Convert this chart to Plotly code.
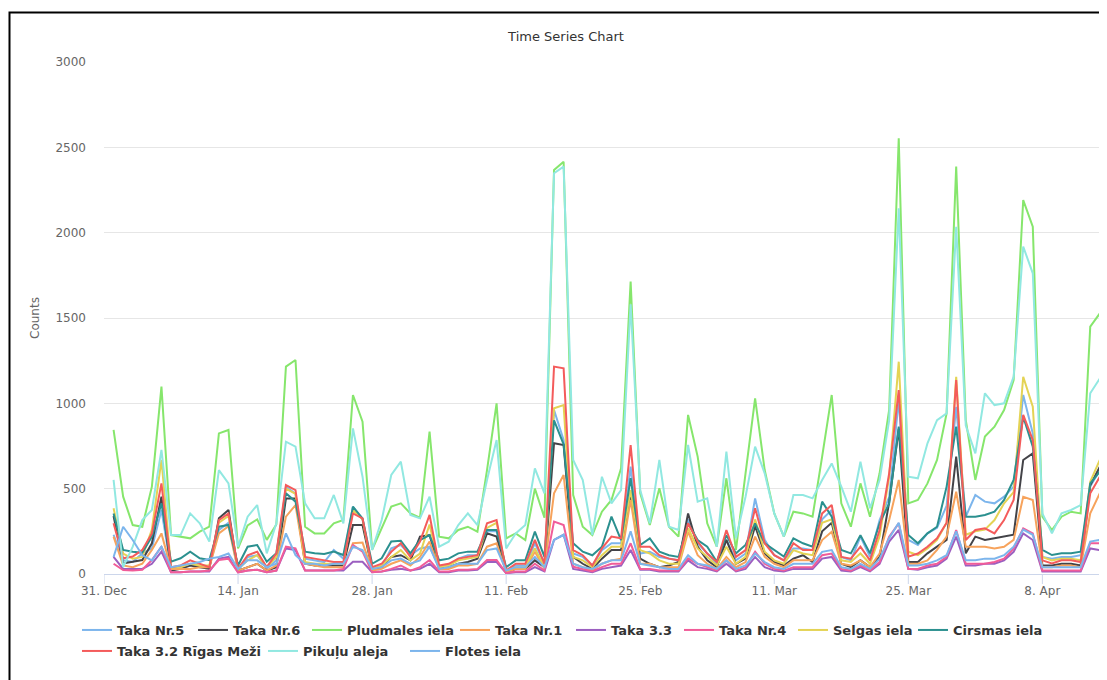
import pandas as pd
import plotly.graph_objects as go

dates = pd.date_range("2018-01-01", periods=105, freq="D")

taka_nr5 = [230, 80, 70, 121, 150, 375, 30, 40, 60, 40, 40, 258, 300, 20, 100, 110, 30, 80, 512, 470,
            90, 80, 70, 141, 90, 394, 320, 30, 40, 150, 170, 110, 150, 160, 40, 50, 90, 110, 110, 250,
            250, 20, 50, 50, 180, 60, 961, 785, 120, 100, 50, 140, 180, 180, 629, 120, 130, 100, 90, 80,
            320, 180, 120, 60, 200, 80, 120, 443, 200, 110, 80, 150, 150, 140, 320, 375, 100, 80, 219, 100,
            316, 450, 1020, 200, 170, 238, 270, 400, 980, 336, 463, 424, 414, 453, 512, 1049, 824, 100, 90, 100,
            100, 110, 512, 609, 90]
taka_nr6 = [340, 62, 72, 82, 180, 453, 20, 30, 50, 40, 30, 326, 375, 20, 40, 60, 20, 40, 443, 443,
            60, 50, 50, 50, 50, 287, 287, 30, 40, 100, 110, 80, 219, 228, 30, 40, 60, 70, 90, 238,
            219, 10, 30, 30, 80, 40, 766, 756, 100, 60, 30, 90, 141, 141, 470, 90, 60, 40, 50, 70,
            355, 160, 80, 40, 200, 60, 90, 280, 120, 70, 50, 90, 110, 70, 250, 300, 60, 40, 80, 40,
            100, 420, 850, 70, 70, 121, 160, 200, 688, 121, 219, 199, 209, 219, 230, 668, 707, 50, 50, 60,
            60, 50, 520, 629, 60]
pludmales = [844, 453, 287, 277, 512, 1098, 228, 219, 209, 248, 277, 824, 844, 150, 285, 320, 200, 290, 1215, 1254,
             277, 238, 238, 297, 316, 1049, 893, 141, 268, 395, 414, 355, 330, 834, 219, 209, 258, 277, 248, 609,
             1000, 209, 238, 199, 500, 330, 2367, 2416, 463, 277, 228, 365, 434, 619, 1713, 473, 287, 502, 277, 219,
             932, 688, 297, 160, 561, 141, 590, 1029, 609, 355, 219, 365, 355, 336, 688, 1049, 414, 277, 531, 336,
             590, 961, 2553, 414, 434, 531, 668, 941, 2387, 902, 551, 805, 863, 961, 1137, 2191, 2035, 336, 258, 336,
             365, 355, 1449, 1527, 300]
taka_nr1 = [219, 50, 40, 60, 141, 238, 30, 30, 30, 40, 40, 238, 280, 20, 40, 60, 20, 50, 336, 404,
            60, 50, 40, 40, 40, 180, 184, 20, 30, 60, 80, 50, 100, 190, 30, 30, 50, 50, 60, 160,
            180, 10, 30, 30, 130, 30, 473, 580, 60, 40, 20, 60, 80, 90, 434, 60, 60, 40, 40, 40,
            248, 110, 60, 30, 100, 40, 70, 219, 100, 60, 40, 80, 80, 80, 199, 248, 60, 50, 80, 40,
            120, 316, 551, 60, 60, 80, 141, 219, 482, 160, 160, 160, 150, 160, 200, 453, 434, 40, 40, 50,
            50, 40, 355, 473, 40]
taka_33 = [100, 30, 30, 30, 60, 131, 10, 10, 15, 15, 15, 90, 100, 10, 20, 25, 10, 20, 150, 140,
           20, 20, 20, 20, 20, 72, 72, 10, 15, 25, 30, 20, 30, 60, 10, 10, 20, 20, 25, 70,
           70, 5, 10, 10, 40, 15, 200, 230, 30, 20, 10, 30, 40, 50, 141, 25, 25, 15, 15, 15,
           80, 40, 30, 15, 60, 15, 30, 100, 40, 20, 15, 30, 30, 30, 90, 100, 20, 15, 40, 15,
           60, 190, 258, 30, 25, 40, 50, 90, 219, 50, 50, 60, 60, 80, 130, 238, 199, 15, 15, 15,
           15, 15, 150, 140, 15]
taka_nr4 = [60, 23, 20, 25, 82, 160, 10, 10, 15, 15, 20, 82, 90, 10, 20, 25, 10, 20, 160, 150,
            20, 20, 20, 20, 30, 170, 131, 10, 15, 30, 50, 20, 40, 82, 15, 15, 25, 25, 30, 82,
            82, 5, 15, 15, 60, 20, 307, 287, 43, 30, 15, 40, 60, 60, 180, 30, 30, 20, 20, 20,
            92, 60, 40, 20, 80, 20, 40, 131, 60, 30, 20, 40, 40, 40, 110, 120, 30, 20, 50, 20,
            70, 219, 297, 30, 30, 50, 60, 100, 258, 60, 60, 60, 70, 90, 150, 268, 238, 20, 20, 20,
            20, 20, 180, 180, 20]
selgas = [385, 120, 90, 100, 260, 668, 40, 40, 60, 50, 50, 300, 340, 30, 80, 110, 40, 100, 500, 470,
          70, 60, 60, 60, 60, 375, 320, 30, 50, 100, 140, 80, 120, 290, 40, 50, 80, 90, 100, 270,
          300, 20, 40, 40, 150, 40, 971, 990, 100, 80, 40, 110, 160, 160, 492, 140, 120, 80, 60, 60,
          270, 150, 100, 50, 160, 60, 100, 320, 130, 80, 60, 140, 120, 110, 300, 320, 80, 70, 120, 60,
          220, 570, 1244, 130, 110, 150, 200, 300, 1156, 230, 250, 260, 316, 414, 480, 1156, 980, 100, 80, 90,
          90, 80, 541, 668, 80]
cirsmas = [355, 141, 131, 125, 219, 414, 72, 92, 131, 92, 82, 277, 287, 50, 160, 170, 72, 121, 473, 424,
           131, 121, 117, 131, 111, 394, 326, 60, 92, 190, 195, 121, 199, 228, 80, 90, 121, 131, 131, 258,
           258, 40, 80, 80, 248, 100, 900, 760, 180, 131, 110, 160, 336, 199, 561, 170, 209, 131, 110, 100,
           297, 199, 160, 72, 228, 121, 170, 297, 180, 141, 102, 209, 180, 160, 424, 336, 141, 121, 228, 121,
           297, 414, 863, 228, 180, 238, 277, 512, 863, 336, 336, 346, 365, 434, 551, 922, 746, 141, 111, 121,
           121, 131, 531, 600, 100]
taka_32 = [297, 92, 102, 141, 238, 531, 40, 50, 80, 60, 40, 316, 355, 30, 110, 131, 40, 121, 521, 492,
           100, 90, 80, 70, 70, 355, 326, 40, 60, 130, 180, 100, 190, 346, 50, 60, 90, 100, 110, 297,
           316, 20, 60, 60, 200, 60, 1215, 1205, 140, 110, 50, 150, 219, 209, 756, 160, 160, 110, 90, 80,
           297, 190, 120, 70, 258, 100, 140, 385, 180, 110, 80, 180, 140, 140, 355, 404, 100, 90, 160, 80,
           258, 590, 1078, 102, 120, 160, 209, 300, 1137, 199, 258, 268, 238, 316, 434, 932, 785, 80, 62, 80,
           80, 70, 473, 570, 80]
pikulu = [551, 40, 160, 316, 375, 727, 228, 228, 355, 297, 190, 609, 531, 160, 336, 404, 121, 297, 775, 746,
          414, 326, 326, 463, 297, 853, 570, 141, 316, 580, 658, 346, 326, 453, 160, 189, 287, 355, 287, 551,
          785, 150, 238, 287, 619, 473, 2348, 2387, 668, 551, 228, 570, 414, 492, 1580, 492, 297, 668, 277, 258,
          756, 424, 443, 160, 717, 209, 453, 746, 590, 355, 219, 463, 463, 443, 551, 648, 512, 365, 658, 385,
          551, 900, 2143, 570, 561, 766, 902, 941, 2035, 870, 707, 1059, 990, 1000, 1156, 1918, 1762, 355, 238, 355,
          375, 404, 1059, 1146, 300]
flotes = [100, 277, 199, 110, 80, 160, 40, 50, 60, 70, 90, 100, 120, 30, 80, 80, 40, 60, 238, 110,
          60, 60, 50, 60, 60, 160, 140, 30, 40, 80, 90, 60, 80, 160, 30, 40, 60, 60, 60, 140,
          150, 20, 40, 40, 100, 40, 200, 230, 60, 40, 30, 60, 80, 80, 250, 60, 50, 40, 30, 30,
          110, 60, 50, 30, 80, 30, 50, 120, 70, 40, 30, 60, 60, 60, 130, 140, 40, 30, 60, 30,
          90, 210, 300, 50, 50, 60, 80, 110, 250, 80, 80, 90, 90, 110, 160, 260, 230, 40, 40, 40,
          40, 40, 190, 200, 40]

series_names = ["Taka Nr.5", "Taka Nr.6", "Pludmales iela", "Taka Nr.1", "Taka 3.3", "Taka Nr.4",
                "Selgas iela", "Cirsmas iela", "Taka 3.2 Rīgas Meži", "Pikuļu aleja", "Flotes iela"]
series_values = [taka_nr5, taka_nr6, pludmales, taka_nr1, taka_33, taka_nr4,
                 selgas, cirsmas, taka_32, pikulu, flotes]
colors = ["#7cb5ec", "#434348", "#86e66c", "#f7a35c", "#9b5fc0", "#f15c99",
          "#e4d354", "#2b908f", "#f45b5b", "#91e8e1", "#7cb5ec"]

tick_vals = ["2017-12-31", "2018-01-14", "2018-01-28", "2018-02-11", "2018-02-25",
             "2018-03-11", "2018-03-25", "2018-04-08"]
tick_text = ["31. Dec", "14. Jan", "28. Jan", "11. Feb", "25. Feb", "11. Mar", "25. Mar", "8. Apr"]

FONT = "DejaVu Sans, Verdana, sans-serif"

# page body has an 8px margin: figure pixel = screen pixel - 8
OFF = 8
W, H = 1107, 680
L, T = 104 - OFF, 62 - OFF
plot_bottom = 574 - OFF
plot_right = 1107 - OFF
R, B = W - plot_right, H - plot_bottom
pw, ph = W - L - R, H - T - B


def px(x):
    return (x - OFF - L) / pw


def py(y):
    return (plot_bottom - (y - OFF)) / ph


# legend entry placement (screen pixels of the label text start, row top)
legend_text_x = [117, 233, 347, 495, 611, 719, 833, 953, 117, 303, 445]
legend_row_top = [615] * 8 + [636] * 3
legend_ids = ["legend"] + [f"legend{i}" for i in range(2, len(series_names) + 1)]

fig = go.Figure()
for name, vals, col, lg in zip(series_names, series_values, colors, legend_ids):
    fig.add_trace(go.Scatter(x=dates, y=vals, mode="lines", name=name, legend=lg,
                             line=dict(color=col, width=2)))

legend_font = dict(family=FONT, size=13, color="#333333", weight="bold")
legend_layout = {}
for lg, tx, ty in zip(legend_ids, legend_text_x, legend_row_top):
    legend_layout[lg] = dict(orientation="h", x=px(tx - 40), xanchor="left", y=py(ty), yanchor="top",
                             font=legend_font, bgcolor="rgba(0,0,0,0)")

fig.update_layout(
    width=W, height=H,
    margin=dict(l=L, r=R, t=T, b=B),
    paper_bgcolor="white", plot_bgcolor="white",
    font=dict(family=FONT, size=12, color="#666666"),
    title=dict(text="Time Series Chart", x=(566 - OFF) / W, xanchor="center", xref="container",
               y=1 - (36 - OFF) / H, yanchor="middle", yref="container",
               font=dict(family=FONT, size=13, color="#333333")),
    xaxis=dict(type="date", range=["2017-12-31", "2018-04-14 18:00"],
               tickvals=tick_vals, ticktext=tick_text,
               showgrid=False, showline=True, linecolor="#ccd6eb", linewidth=1,
               ticks="", ticklabelstandoff=6,
               tickfont=dict(family=FONT, size=12, color="#666666"), zeroline=False),
    yaxis=dict(range=[0, 3000], tickvals=[0, 500, 1000, 1500, 2000, 2500, 3000],
               showgrid=True, gridcolor="#e6e6e6", gridwidth=1, zeroline=False,
               showline=False, ticks="", ticklabelstandoff=17,
               tickfont=dict(family=FONT, size=12, color="#666666"),
               title=dict(text="Counts", standoff=13,
                          font=dict(family=FONT, size=12, color="#666666"))),
    showlegend=True,
    **legend_layout,
)

# x-axis tick marks below the axis line, at the tick values
for tv in tick_vals:
    fig.add_shape(type="line", xref="x", yref="paper", x0=tv, x1=tv, y0=0, y1=-10 / ph,
                  line=dict(color="#ccd6eb", width=1), layer="below")

# outer frame of the chart container (right/bottom edges lie beyond the visible window)
fig.add_shape(type="rect", xref="paper", yref="paper",
              x0=px(9.5), x1=px(1140), y0=py(12.5), y1=py(720),
              line=dict(color="black", width=2), fillcolor="rgba(0,0,0,0)", layer="above")

fig.write_html("out.html")
